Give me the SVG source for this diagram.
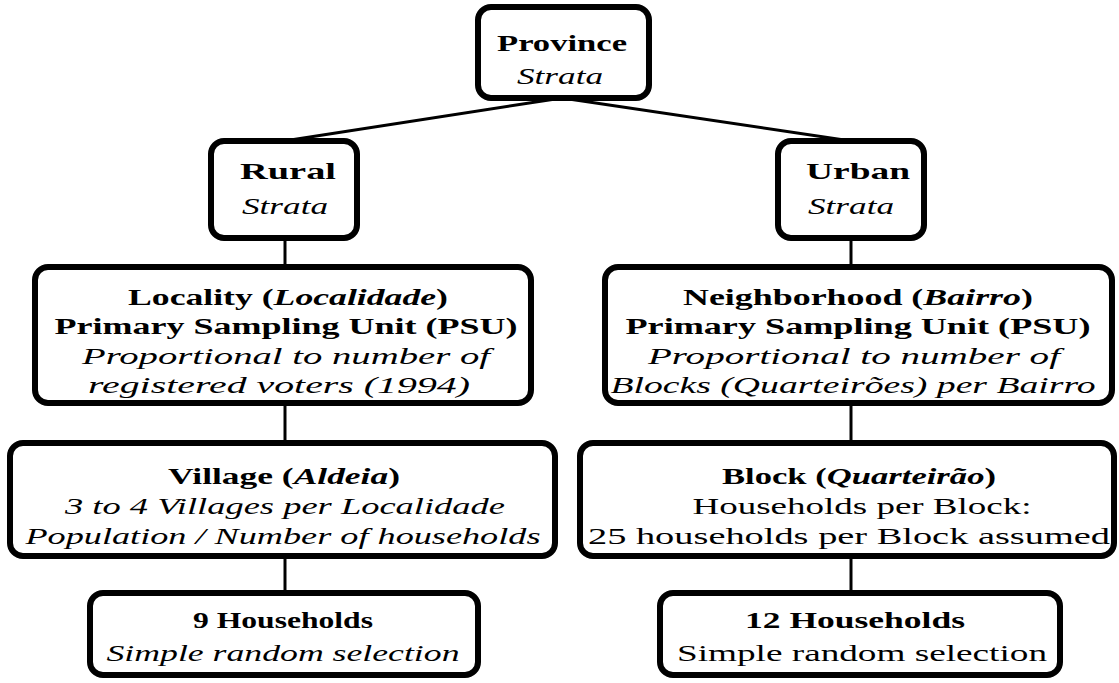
<svg xmlns="http://www.w3.org/2000/svg" width="1119" height="683" viewBox="0 0 1119 683">
<style>
.box{fill:#fff;stroke:#000;stroke-width:6}
.con{stroke:#000;stroke-width:3;fill:none}
text{font-family:"Liberation Serif","Times New Roman",serif;font-size:24px;fill:#000;text-anchor:middle}
.b{font-weight:bold}
.i{font-style:italic}
</style>
<rect width="1119" height="683" fill="#fff"/>
<g id="connectors">
<line class="con" x1="562" y1="98" x2="284" y2="141"/>
<line class="con" x1="562" y1="98" x2="851" y2="141"/>
<line class="con" x1="285" y1="238" x2="285" y2="267"/>
<line class="con" x1="285" y1="403" x2="285" y2="443"/>
<line class="con" x1="285" y1="556" x2="285" y2="593"/>
<line class="con" x1="851" y1="238" x2="851" y2="267"/>
<line class="con" x1="851" y1="403" x2="851" y2="443"/>
<line class="con" x1="851" y1="556" x2="851" y2="593"/>
</g>
<g id="province">
<rect class="box" x="478" y="7" width="171" height="91" rx="13"/>
<text class="b" x="562" y="51" textLength="130" lengthAdjust="spacingAndGlyphs">Province</text>
<text class="i" x="560" y="84" textLength="86" lengthAdjust="spacingAndGlyphs">Strata</text>
</g>
<g id="rural">
<rect class="box" x="211" y="141" width="146" height="97" rx="13"/>
<text class="b" x="288" y="179" textLength="96" lengthAdjust="spacingAndGlyphs">Rural</text>
<text class="i" x="285" y="214" textLength="86" lengthAdjust="spacingAndGlyphs">Strata</text>
</g>
<g id="urban">
<rect class="box" x="778" y="141" width="146" height="97" rx="13"/>
<text class="b" x="858" y="179" textLength="104" lengthAdjust="spacingAndGlyphs">Urban</text>
<text class="i" x="851" y="214" textLength="86" lengthAdjust="spacingAndGlyphs">Strata</text>
</g>
<g id="locality">
<rect class="box" x="35" y="267" width="496" height="136" rx="13"/>
<text class="b" x="288" y="305" textLength="320" lengthAdjust="spacingAndGlyphs">Locality (<tspan class="i">Localidade</tspan>)</text>
<text class="b" x="286" y="334" textLength="463" lengthAdjust="spacingAndGlyphs">Primary Sampling Unit (PSU)</text>
<text class="i" x="286" y="364" textLength="408" lengthAdjust="spacingAndGlyphs">Proportional to number of</text>
<text class="i" x="279" y="393" textLength="382" lengthAdjust="spacingAndGlyphs">registered voters (1994)</text>
</g>
<g id="neighborhood">
<rect class="box" x="605" y="267" width="507" height="136" rx="13"/>
<text class="b" x="858" y="305" textLength="350" lengthAdjust="spacingAndGlyphs">Neighborhood (<tspan class="i">Bairro</tspan>)</text>
<text class="b" x="858" y="334" textLength="465" lengthAdjust="spacingAndGlyphs">Primary Sampling Unit (PSU)</text>
<text class="i" x="854" y="364" textLength="412" lengthAdjust="spacingAndGlyphs">Proportional to number of</text>
<text class="i" x="853" y="393" textLength="485" lengthAdjust="spacingAndGlyphs">Blocks (Quarteirões) per Bairro</text>
</g>
<g id="village">
<rect class="box" x="10" y="443" width="545" height="113" rx="13"/>
<text class="b" x="284" y="484" textLength="232" lengthAdjust="spacingAndGlyphs">Village (<tspan class="i">Aldeia</tspan>)</text>
<text class="i" x="285" y="514" textLength="440" lengthAdjust="spacingAndGlyphs">3 to 4 Villages per Localidade</text>
<text class="i" x="283" y="544" textLength="515" lengthAdjust="spacingAndGlyphs">Population / Number of households</text>
</g>
<g id="block">
<rect class="box" x="580" y="443" width="534" height="113" rx="13"/>
<text class="b" x="859" y="484" textLength="274" lengthAdjust="spacingAndGlyphs">Block (<tspan class="i">Quarteirão</tspan>)</text>
<text x="862" y="514" textLength="339" lengthAdjust="spacingAndGlyphs">Households per Block:</text>
<text x="849" y="544" textLength="522" lengthAdjust="spacingAndGlyphs">25 households per Block assumed</text>
</g>
<g id="hh9">
<rect class="box" x="90" y="593" width="388" height="82" rx="13"/>
<text class="b" x="283" y="628" textLength="180" lengthAdjust="spacingAndGlyphs">9 Households</text>
<text class="i" x="283" y="661" textLength="353" lengthAdjust="spacingAndGlyphs">Simple random selection</text>
</g>
<g id="hh12">
<rect class="box" x="660" y="593" width="400" height="82" rx="13"/>
<text class="b" x="855" y="628" textLength="220" lengthAdjust="spacingAndGlyphs">12 Households</text>
<text x="862" y="661" textLength="370" lengthAdjust="spacingAndGlyphs">Simple random selection</text>
</g>
</svg>
